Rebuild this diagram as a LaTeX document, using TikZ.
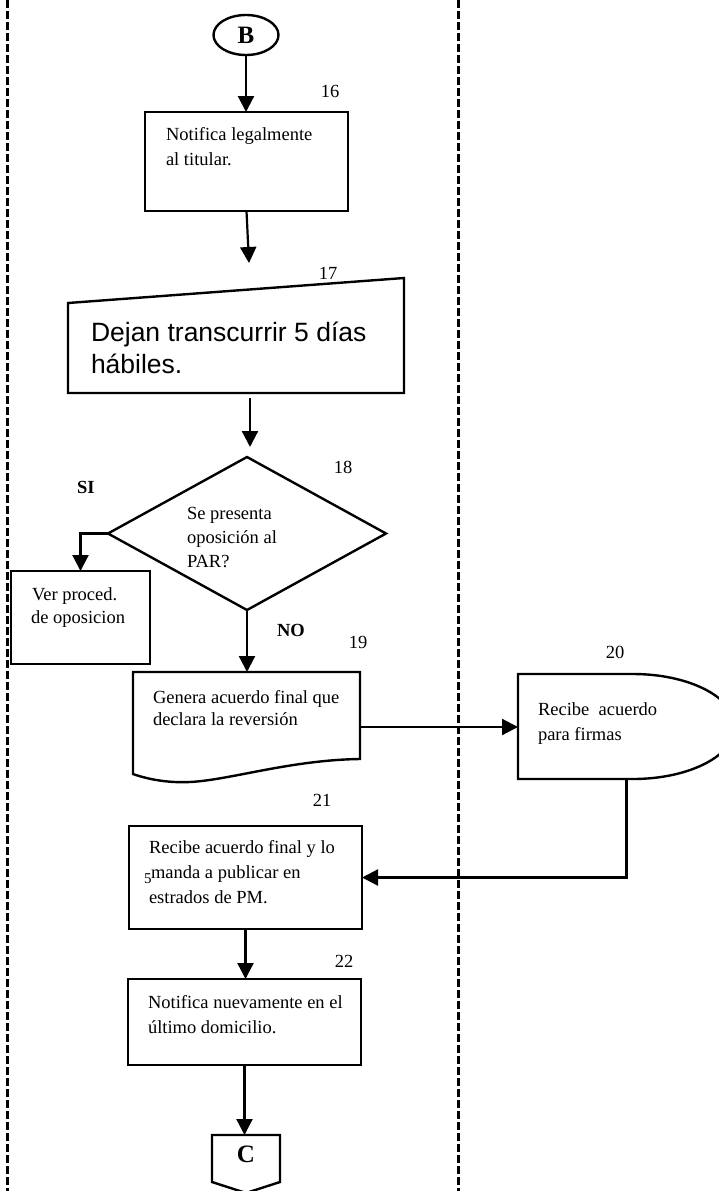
\documentclass[tikz,border=0pt]{standalone}
\usepackage{fontspec}
\setmainfont{Liberation Serif}
\newfontfamily\sansfont{Liberation Sans}
\usetikzlibrary{arrows.meta,shapes.geometric}
\begin{document}
\begin{tikzpicture}[x=1pt,y=-1pt,
  every node/.style={inner sep=0pt, outer sep=0pt},
  boxline/.style={draw, line width=2.4pt, line join=miter},
  lbl/.style={anchor=base west, font=\fontsize{18.5}{25}\selectfont},
  num/.style={anchor=base, font=\fontsize{18.5}{25}\selectfont},
  tag/.style={anchor=base west, font=\fontsize{18.5}{25}\selectfont\bfseries},
  conn/.style={anchor=base, font=\fontsize{25}{30}\selectfont\bfseries},
  arr/.style={draw, line width=2.2pt, -{Triangle[length=16pt,width=16pt]}},
  lane/.style={draw, line width=3pt, dash pattern=on 8pt off 3pt},
]
\useasboundingbox (0,0) rectangle (719,1191);
\clip (0,0) rectangle (719,1191);

% swimlane separators
\draw[lane] (7,0) -- (7,1191);
\draw[lane] (458,0) -- (458,1191);

% start connector
\node[ellipse, boxline, minimum width=65pt, minimum height=40pt,
      font=\fontsize{25}{30}\selectfont\bfseries] (B) at (246,35) {B};

% 16: process
\node[boxline, rectangle, minimum width=203pt, minimum height=99pt] (b16) at (246.5,161.5) {};
\node[num] (n16) at (330,97) {16};
\node[lbl] (t16a) at (166,140) {Notifica legalmente};
\node[lbl] (t16b) at (166,165) {al titular.};

% 17: manual input
\node[minimum width=336pt, minimum height=115pt] (m17) at (236,335.5) {};
\draw[boxline] (m17.south west) -- (m17.south east) -- (m17.north east)
  -- ([yshift=-25pt]m17.north west) -- cycle;
\node[num] (n17) at (328,279) {17};
\node[anchor=base west, font=\sansfont\fontsize{26.5}{32}\selectfont] (t17a) at (91,341) {Dejan transcurrir 5 días};
\node[anchor=base west, font=\sansfont\fontsize{26.5}{32}\selectfont] (t17b) at (91,373) {hábiles.};

% 18: decision
\node[minimum width=278pt, minimum height=153pt] (d18) at (247,533.5) {};
\draw[boxline] (d18.north) -- (d18.east) -- (d18.south) -- (d18.west) -- cycle;
\node[num] (n18) at (343,473) {18};
\node[lbl] (t18a) at (187,519) {Se presenta};
\node[lbl] (t18b) at (187,543) {oposición al};
\node[lbl] (t18c) at (187,567) {PAR?};
\node[tag] (si) at (77,493) {SI};
\node[tag] (no) at (277,636) {NO};

% branch box
\node[boxline, rectangle, minimum width=139pt, minimum height=93pt] (vp) at (80.5,617.5) {};
\node[lbl] (tvpa) at (32,600) {Ver proced.};
\node[lbl] (tvpb) at (31,623) {de oposicion};

% 19: document
\node[minimum width=227pt, minimum height=110pt] (n19) at (246.5,727) {};
\draw[boxline] (133,672) -- (360,672) -- (360,759)
  .. controls (290,760) and (230,780) .. (190,782)
  .. controls (170,783) and (150,780) .. (133,774) -- cycle;
\node[num] (n19n) at (358,648) {19};
\node[lbl] (t19a) at (153,703) {Genera acuerdo final que};
\node[lbl] (t19b) at (153,725) {declara la reversión};

% 20: delay
\node[minimum width=217pt, minimum height=105pt] (d20) at (626.5,726.5) {};
\draw[boxline] (518,674) -- (633,674)
  .. controls (689.3,674) and (735,697.5) .. (735,726.5)
  .. controls (735,755.5) and (689.3,779) .. (633,779) -- (518,779) -- cycle;
\node[num] (n20) at (615,658) {20};
\node[lbl] (t20a) at (538,715) {Recibe\ \ acuerdo};
\node[lbl] (t20b) at (538,740) {para firmas};

% 21: process
\node[boxline, rectangle, minimum width=233pt, minimum height=103pt] (b21) at (245.5,877.5) {};
\node[num] (n21) at (322,806) {21};
\node[lbl] (t21a) at (149,853) {Recibe acuerdo final y lo};
\node[lbl] (t21b) at (151,878) {manda a publicar en};
\node[lbl] (t21c) at (149,903) {estrados de PM.};
\node[anchor=base west, font=\fontsize{15}{18}\selectfont] (s5) at (144,883) {5};

% 22: process
\node[boxline, rectangle, minimum width=233pt, minimum height=86pt] (b22) at (244.5,1022) {};
\node[num] (n22) at (344,967) {22};
\node[lbl] (t22a) at (148,1008) {Notifica nuevamente en el};
\node[lbl] (t22b) at (148,1033) {último domicilio.};

% off-page connector
\node[minimum width=68pt, minimum height=58pt] (cC) at (246,1164) {};
\draw[boxline] (cC.north west) -- (cC.north east) -- ([yshift=11pt]cC.south east)
  -- (cC.south) -- ([yshift=11pt]cC.south west) -- cycle;
\node[conn] (tC) at (246,1162) {C};

% flow
\coordinate (e17) at (249,263);
\coordinate (s18) at (250,398);
\coordinate (e18) at (250,447);
\draw[arr] (B.south) -- (B.south |- b16.north);
\draw[arr] (b16.south) -- (e17);
\draw[arr] (s18) -- (e18);
\draw[arr] (d18.west) -| (vp.north);
\draw[arr] (d18.south) -- (d18.south |- n19.north);
\draw[arr] (n19.east) -- (n19.east -| d20.west);
\draw[arr] (d20.south) |- (b21.east);
\draw[arr] (b21.south) -- (b21.south |- b22.north);
\draw[arr] (b22.south) -- (b22.south |- cC.north);
\end{tikzpicture}
\end{document}
